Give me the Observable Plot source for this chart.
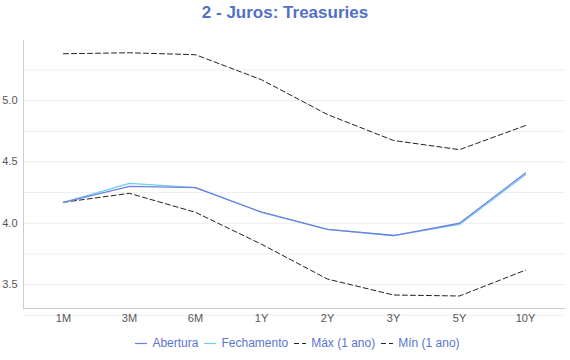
<!DOCTYPE html>
<html>
<head>
<meta charset="utf-8">
<script src="https://cdn.jsdelivr.net/npm/d3@7"></script>
<script src="https://cdn.jsdelivr.net/npm/@observablehq/plot@0.6"></script>
<style>
  html, body { margin: 0; padding: 0; background: #fff; }
  body { width: 570px; height: 360px; overflow: hidden; font-family: "Liberation Sans", Arial, Helvetica, sans-serif; }
  #title { height: 28px; line-height: 26px; text-align: center; font-weight: bold; font-size: 17px; color: #5470c6; }
  #legend { display: flex; justify-content: center; align-items: center; gap: 6px; font-size: 12px; color: #5a74d4; margin-top: 8px; padding-left: 25px; }
  #legend .item { display: flex; align-items: center; gap: 5px; }
</style>
</head>
<body>
<div id="title">2 - Juros: Treasuries</div>
<div id="chart"></div>
<div id="legend"></div>
<script>
const tenors = ["1M", "3M", "6M", "1Y", "2Y", "3Y", "5Y", "10Y"];
const abertura   = [4.17, 4.30, 4.29, 4.09, 3.95, 3.90, 4.00, 4.41];
const fechamento = [4.17, 4.325, 4.29, 4.09, 3.95, 3.90, 3.99, 4.395];
const maxAno     = [5.382, 5.39, 5.374, 5.17, 4.886, 4.675, 4.60, 4.797];
const minAno     = [4.171, 4.244, 4.089, 3.829, 3.545, 3.415, 3.407, 3.618];
const yTicks = [3.5, 4.0, 4.5, 5.0];
const yGrid = [3.25, 3.5, 3.75, 4.0, 4.25, 4.5, 4.75, 5.0, 5.25];

const seriesNames = ["Abertura", "Fechamento", "Máx (1 ano)", "Mín (1 ano)"];
const seriesColors = ["#7080e0", "#6dd0ef", "#222222", "#222222"];
const seriesDash = [null, null, "5,3", "5,3"];

const rows = (vals, name) => tenors.map((t, i) => ({tenor: t, value: vals[i], series: name}));
const dAb = rows(abertura, seriesNames[0]);
const dFe = rows(fechamento, seriesNames[1]);
const dMax = rows(maxAno, seriesNames[2]);
const dMin = rows(minAno, seriesNames[3]);

const yDomain = [3.305, 5.49];

const axisLines = (index, scales, values, dims) => {
  const g = d3.create("svg:g");
  const x0 = dims.marginLeft, x1 = dims.width - dims.marginRight;
  const y0 = dims.marginTop, y1 = dims.height - dims.marginBottom;
  g.append("line").attr("x1", x0 + 0.5).attr("x2", x0 + 0.5).attr("y1", y0).attr("y2", y1).attr("stroke", "#cccccc");
  g.append("line").attr("x1", x0).attr("x2", x1).attr("y1", y1 + 0.5).attr("y2", y1 + 0.5).attr("stroke", "#cccccc");
  return g.node();
};

const chart = Plot.plot({
  width: 570,
  height: 300,
  marginLeft: 23,
  marginRight: 5,
  marginTop: 12,
  marginBottom: 20,
  style: {fontFamily: "'Liberation Sans', Arial, sans-serif", fontSize: "11px", color: "#555"},
  x: {type: "point", domain: tenors, padding: 0.6, label: null},
  y: {domain: yDomain, label: null},
  marks: [
    Plot.gridY(yGrid, {stroke: "#eeeeee", strokeOpacity: 1}),
    Plot.axisY(yTicks, {tickSize: 0, tickPadding: 6, tickFormat: d3.format(".1f"), fill: "#555", fontSize: 11}),
    Plot.axisX({tickSize: 0, tickPadding: 6, fill: "#555", fontSize: 11}),
    axisLines,
    Plot.line(dMax, {x: "tenor", y: "value", stroke: seriesColors[2], strokeWidth: 1, strokeDasharray: seriesDash[2]}),
    Plot.line(dMin, {x: "tenor", y: "value", stroke: seriesColors[3], strokeWidth: 1, strokeDasharray: seriesDash[3]}),
    Plot.line(dFe, {x: "tenor", y: "value", stroke: seriesColors[1], strokeWidth: 1.3}),
    Plot.line(dAb, {x: "tenor", y: "value", stroke: seriesColors[0], strokeWidth: 1.3})
  ]
});
document.getElementById("chart").appendChild(chart);

const legend = d3.select("#legend");
seriesNames.forEach((name, i) => {
  const item = legend.append("div").attr("class", "item");
  const sw = item.append("svg").attr("width", 12).attr("height", 10);
  sw.append("line").attr("x1", 0).attr("x2", 12).attr("y1", 5.5).attr("y2", 5.5)
    .attr("stroke", seriesColors[i]).attr("stroke-width", 1.2)
    .attr("stroke-dasharray", seriesDash[i] ? "5,3" : null);
  item.append("span").text(name);
});
</script>
</body>
</html>
